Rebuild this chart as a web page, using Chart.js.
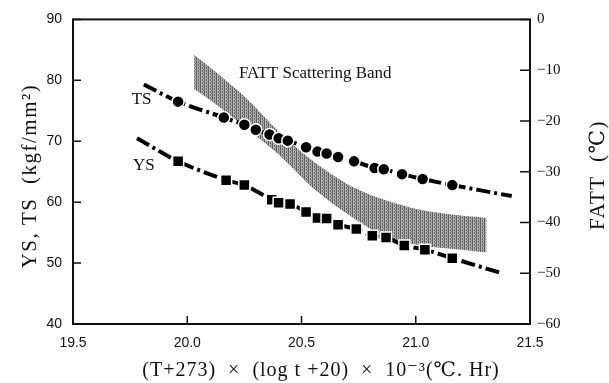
<!DOCTYPE html>
<html>
<head>
<meta charset="utf-8">
<script src="https://cdn.jsdelivr.net/npm/chart.js@4.4.1/dist/chart.umd.min.js"></script>
<style>
  html, body { margin: 0; padding: 0; background: #fff; }
</style>
</head>
<body>
<canvas id="myChart" width="609" height="383"></canvas>
<script>
// TS (circles), first and last entries are the ends of the curve
const tsX = [19.81, 19.96, 20.16, 20.25, 20.30, 20.36, 20.40, 20.44, 20.52, 20.57, 20.61, 20.66, 20.73, 20.82, 20.86, 20.94, 21.03, 21.16, 21.42];
const tsY = [79.3, 76.5, 73.9, 72.7, 71.9, 71.1, 70.5, 70.1, 69.0, 68.3, 68.0, 67.4, 66.7, 65.6, 65.4, 64.6, 63.8, 62.8, 61.0];

// YS (squares), first and last entries are the ends of the curve
const ysX = [19.78, 19.96, 20.17, 20.25, 20.37, 20.40, 20.45, 20.52, 20.57, 20.61, 20.66, 20.74, 20.81, 20.87, 20.95, 21.04, 21.16, 21.38];
const ysY = [70.5, 66.7, 63.6, 62.8, 60.4, 59.9, 59.7, 58.4, 57.4, 57.3, 56.3, 55.6, 54.5, 54.2, 52.9, 52.2, 50.8, 48.3];

// FATT scattering band (right axis)
const bandX = [20.03, 20.11, 20.26, 20.40, 20.55, 20.70, 20.84, 20.98, 21.13, 21.31];
const bandUpper = [-7.0, -9.8, -15.6, -22.1, -27.9, -32.4, -35.2, -37.1, -38.3, -39.1];
const bandLower = [-13.7, -16.2, -21.5, -26.6, -33.2, -38.3, -42.2, -44.2, -45.1, -45.9];

const xTicks = [19.5, 20.0, 20.5, 21.0, 21.5];
const leftTicks = [40, 50, 60, 70, 80, 90];
const rightTicks = [-60, -50, -40, -30, -20, -10, 0];

const SERIF = "'Liberation Serif', 'DejaVu Serif', serif";
const SANS = "'Liberation Sans', 'DejaVu Sans', sans-serif";

const pts = (xs, ys) => xs.map((x, i) => ({ x: x, y: ys[i] }));

// stippled grey fill for the band
function bandPattern() {
  const c = document.createElement("canvas");
  c.width = 4;
  c.height = 3;
  const g = c.getContext("2d");
  g.fillStyle = "#b4b4b4";
  g.fillRect(0, 0, 4, 3);
  g.fillStyle = "#5e5e5e";
  g.fillRect(0, 0, 1, 3);
  g.fillRect(2, 1, 1, 2);
  g.fillStyle = "#8a8a8a";
  g.fillRect(3, 0, 1, 1);
  return g.createPattern(c, "repeat");
}

// no marker on the two curve ends
const markerSize = (n, r) => (ctx) => (ctx.dataIndex === 0 || ctx.dataIndex === n - 1 ? 0 : r);

// inward ticks, frame, axis titles and notes
const decorations = {
  id: "decorations",
  afterDraw(chart) {
    const { ctx, chartArea: a, scales } = chart;
    ctx.save();
    ctx.strokeStyle = "#111";
    ctx.lineWidth = 2;
    ctx.strokeRect(a.left, a.top, a.right - a.left, a.bottom - a.top);

    ctx.lineWidth = 1.5;
    ctx.beginPath();
    leftTicks.forEach((v) => {
      const y = scales.y.getPixelForValue(v);
      ctx.moveTo(a.left, y);
      ctx.lineTo(a.left + 8, y);
    });
    rightTicks.forEach((v) => {
      const y = scales.y2.getPixelForValue(v);
      ctx.moveTo(a.right, y);
      ctx.lineTo(a.right - 10, y);
    });
    xTicks.forEach((v) => {
      const x = scales.x.getPixelForValue(v);
      ctx.moveTo(x, a.bottom);
      ctx.lineTo(x, a.bottom - 8);
    });
    ctx.stroke();

    ctx.fillStyle = "#111";
    ctx.textAlign = "center";
    ctx.textBaseline = "middle";

    ctx.font = "17px " + SERIF;
    ctx.fillText("TS", scales.x.getPixelForValue(19.80), scales.y.getPixelForValue(76.8));
    ctx.fillText("YS", scales.x.getPixelForValue(19.81), scales.y.getPixelForValue(66.0));
    ctx.fillText("FATT Scattering Band", scales.x.getPixelForValue(20.56), scales.y.getPixelForValue(81.1));

    ctx.letterSpacing = "1px";
    ctx.font = "20px " + SERIF;
    ctx.fillText("(T+273)  ×  (log t +20)  ×  10\u207B\u00B3(\u2103. Hr)", 321, 371);

    ctx.letterSpacing = "1.5px";
    ctx.font = "21px " + SERIF;
    ctx.save();
    ctx.translate(30, 176);
    ctx.rotate(-Math.PI / 2);
    ctx.fillText("YS, TS  (kgf/mm\u00B2)", 0, 0);
    ctx.restore();

    ctx.save();
    ctx.translate(598, 175);
    ctx.rotate(-Math.PI / 2);
    ctx.fillText("FATT  (\u2103)", 0, 0);
    ctx.restore();

    ctx.restore();
  },
};

const ctx = document.getElementById("myChart").getContext("2d");

const myChart = new Chart(ctx, {
  type: "line",
  data: {
    datasets: [
      {
        label: "TS",
        data: pts(tsX, tsY),
        yAxisID: "y",
        borderColor: "#000",
        borderWidth: 4,
        borderDash: [14, 4, 3, 4],
        tension: 0.3,
        pointStyle: "circle",
        pointRadius: markerSize(tsX.length, 6),
        pointBackgroundColor: "#000",
        pointBorderColor: "#fff",
        pointBorderWidth: 1.5,
        fill: false,
        order: 0,
      },
      {
        label: "YS",
        data: pts(ysX, ysY),
        yAxisID: "y",
        borderColor: "#000",
        borderWidth: 4,
        borderDash: [14, 4, 3, 4],
        tension: 0.3,
        pointStyle: "rect",
        pointRadius: markerSize(ysX.length, 7.8),
        pointBackgroundColor: "#000",
        pointBorderColor: "#fff",
        pointBorderWidth: 1.5,
        fill: false,
        order: 0,
      },
      {
        label: "FATT upper",
        data: pts(bandX, bandUpper),
        yAxisID: "y2",
        borderWidth: 0,
        pointRadius: 0,
        cubicInterpolationMode: "monotone",
        fill: false,
        order: 2,
      },
      {
        label: "FATT lower",
        data: pts(bandX, bandLower),
        yAxisID: "y2",
        borderWidth: 0,
        pointRadius: 0,
        cubicInterpolationMode: "monotone",
        backgroundColor: bandPattern(),
        fill: "-1",
        order: 2,
      },
    ],
  },
  options: {
    responsive: false,
    animation: false,
    layout: { padding: { top: 17, left: 0, right: 0, bottom: 0 } },
    plugins: {
      legend: { display: false },
      tooltip: { enabled: false },
    },
    scales: {
      x: {
        type: "linear",
        min: 19.5,
        max: 21.5,
        afterFit: (s) => { s.height = 59; },
        afterBuildTicks: (s) => { s.ticks = xTicks.map((v) => ({ value: v })); },
        grid: { display: false, drawTicks: false },
        border: { display: false },
        ticks: {
          padding: 11,
          color: "#111",
          font: { family: SANS, size: 14 },
          callback: (v) => v.toFixed(1),
        },
      },
      y: {
        position: "left",
        min: 40,
        max: 90,
        afterFit: (s) => { s.width = 73; },
        afterBuildTicks: (s) => { s.ticks = leftTicks.map((v) => ({ value: v })); },
        grid: { display: false, drawTicks: false },
        border: { display: false },
        ticks: {
          padding: 11,
          color: "#111",
          font: { family: SANS, size: 14 },
        },
      },
      y2: {
        position: "right",
        min: -60,
        max: 0,
        afterFit: (s) => { s.width = 79; },
        afterBuildTicks: (s) => { s.ticks = rightTicks.map((v) => ({ value: v })); },
        grid: { display: false, drawTicks: false },
        border: { display: false },
        ticks: {
          padding: 7,
          color: "#111",
          font: { family: SERIF, size: 15 },
          callback: (v) => (v < 0 ? "\u2212" + Math.abs(v) : String(v)),
        },
      },
    },
  },
  plugins: [decorations],
});
</script>
</body>
</html>
